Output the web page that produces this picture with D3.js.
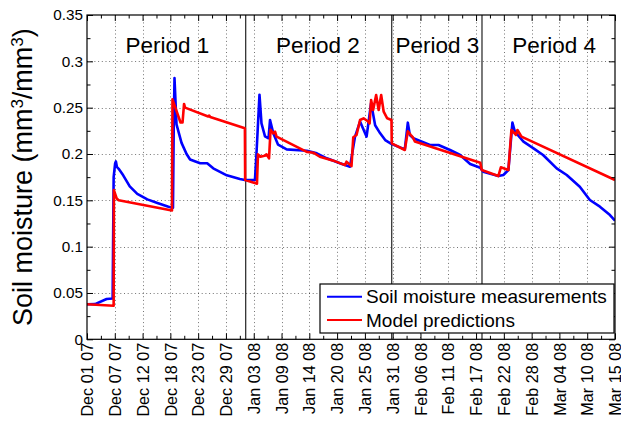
<!DOCTYPE html>
<html>
<head>
<meta charset="utf-8">
<script src="https://cdn.jsdelivr.net/npm/d3@7"></script>
<style>
body{margin:0;background:#fff;}
text{font-family:"Liberation Sans",Arial,Helvetica,sans-serif;fill:#000;}
</style>
</head>
<body>
<script>
// days counted from Dec 01 2007
var xTickLabels=["Dec 01 07","Dec 07 07","Dec 12 07","Dec 18 07","Dec 23 07","Dec 29 07",
  "Jan 03 08","Jan 09 08","Jan 14 08","Jan 20 08","Jan 25 08","Jan 31 08","Feb 06 08",
  "Feb 11 08","Feb 17 08","Feb 22 08","Feb 28 08","Mar 04 08","Mar 10 08","Mar 15 08"]
var yTicks=[0,0.05,0.1,0.15,0.2,0.25,0.3,0.35]

var measDays=[0,1.6,3.9,5.1,5.3,5.6,5.75,5.95,6.3,7.2,8.5,10,12,14,16.2,17.1,
  17.25,17.4,17.8,18.8,19.8,20.5,22.5,23.9,25.1,27.8,30.4,31.4,33.4,33.7,34.3,
  34.7,35.4,36.1,36.4,37.05,38,39.7,43.7,45.7,47.7,50.3,52.3,53.3,54.3,55.6,
  56.5,57.3,58.3,59.3,60.6,63.2,63.8,64.2,64.9,68.2,69.9,72.2,74.2,76.2,78.2,
  78.8,81.8,82.8,83.8,84.6,85.1,86.8,88.8,90.7,93.4,95.4,98,100,102,104,105]
var measVals=[0.0378,0.038,0.0435,0.044,0.175,0.19,0.192,0.186,0.184,0.177,0.165,
  0.157,0.151,0.147,0.143,0.142,0.23,0.282,0.232,0.212,0.2,0.194,0.19,0.19,0.1845,
  0.177,0.173,0.172,0.172,0.2,0.264,0.233,0.219,0.217,0.2367,0.2223,0.21,0.205,
  0.2035,0.2007,0.1953,0.19,0.1863,0.2187,0.235,0.2187,0.255,0.231,0.2223,0.215,
  0.2107,0.205,0.2338,0.2205,0.217,0.2097,0.2097,0.2043,0.1989,0.1892,0.1852,
  0.1809,0.1762,0.1773,0.1827,0.2338,0.224,0.2133,0.2061,0.1989,0.1845,0.1773,
  0.1647,0.1503,0.1431,0.1341,0.128]

var predDays=[0,5.3,5.35,5.9,6.3,16.9,17,18.6,19,19.3,19.5,24.1,24.3,24.5,31.4,
  31.45,33.8,34,34.5,35.3,35.7,36.2,36.5,37.05,37.4,37.7,43.7,45,46.3,49,51.3,
  51.6,52.6,52.95,53.6,54.3,55,55.9,56.2,56.5,56.9,57.5,58,58.5,59,59.7,60.55,
  60.6,63.2,63.8,64.4,64.8,65.2,78.2,78.5,81.8,82.3,83.8,84.4,84.9,85.3,85.6,86.4,105]
var predVals=[0.0378,0.0362,0.161,0.152,0.15,0.139,0.259,0.234,0.234,0.254,0.25,
  0.2405,0.2415,0.24,0.2277,0.172,0.168,0.1996,0.197,0.198,0.1996,0.1953,0.226,
  0.2223,0.224,0.2187,0.2023,0.2014,0.197,0.1928,0.188,0.1917,0.187,0.218,0.2205,
  0.2367,0.2385,0.235,0.233,0.2583,0.2475,0.2637,0.2475,0.2637,0.2456,0.2385,
  0.2367,0.2115,0.2043,0.2245,0.2205,0.218,0.2135,0.1906,0.1827,0.1762,0.1856,
  0.1827,0.2259,0.223,0.2205,0.2259,0.2187,0.1719]

var periodNames=["Period 1","Period 2","Period 3","Period 4"]
var periodCenters=[16.0,45.9,69.7,92.9]
var periodBounds=[31.56,60.6,78.55]
var seriesNames=["Soil moisture measurements","Model predictions"]
var seriesColors=["#0000ff","#ff0000"]

var screen={width:621,height:423}
var margin={top:15,right:6,bottom:83.7,left:87}
var w=screen.width-margin.left-margin.right
var h=screen.height-margin.top-margin.bottom

var nDays=105
var xScale=d3.scaleLinear().domain([0,nDays]).range([0,w])
var yScale=d3.scaleLinear().domain([0,0.35]).range([h,0])

var xTickDays=xTickLabels.map(function(d,i){return i*nDays/(xTickLabels.length-1)})
var xMinor=[]
for (var i=0;i<xTickDays.length-1;i++){xMinor.push((xTickDays[i]+xTickDays[i+1])/2)}
var yMinor=[]
for (var i=0;i<yTicks.length-1;i++){yMinor.push((yTicks[i]+yTicks[i+1])/2)}

var svg=d3.select("body").append("svg")
  .attr('width',screen.width)
  .attr('height',screen.height)

var plot=svg.append("g")
  .attr('transform','translate('+margin.left+','+margin.top+')')

plot.append("clipPath").attr("id","clip")
  .append("rect").attr("width",w).attr("height",h)

// grid
var grid=plot.append("g").attr("stroke","#000").attr("stroke-opacity",0.55)
  .attr("stroke-width",1).attr("stroke-dasharray","1,2.7")
grid.selectAll(".gx").data(xTickDays.slice(1,-1)).enter().append("line")
  .attr("x1",function(d){return Math.round(xScale(d))+0.5})
  .attr("x2",function(d){return Math.round(xScale(d))+0.5})
  .attr("y1",0).attr("y2",h)
grid.selectAll(".gy").data(yTicks.slice(1,-1)).enter().append("line")
  .attr("y1",function(d){return Math.round(yScale(d))+0.5})
  .attr("y2",function(d){return Math.round(yScale(d))+0.5})
  .attr("x1",0).attr("x2",w)

// period separators
plot.selectAll(".sep").data(periodBounds).enter().append("line")
  .attr("x1",function(d){return xScale(d)}).attr("x2",function(d){return xScale(d)})
  .attr("y1",0).attr("y2",h)
  .attr("stroke","#222").attr("stroke-width",1.2)

// lines
var line=d3.line()
  .x(function(d){return xScale(d[0])})
  .y(function(d){return yScale(d[1])})
var meas=d3.zip(measDays,measVals)
var pred=d3.zip(predDays,predVals)
var lines=plot.append("g").attr("clip-path","url(#clip)")
lines.append("path").datum(meas).attr("d",line)
  .attr("fill","none").attr("stroke",seriesColors[0]).attr("stroke-width",2.6)
  .attr("stroke-linejoin","round")
lines.append("path").datum(pred).attr("d",line)
  .attr("fill","none").attr("stroke",seriesColors[1]).attr("stroke-width",2.6)
  .attr("stroke-linejoin","round")

// axes
var xAxis=d3.axisBottom(xScale).tickValues(xTickDays)
  .tickFormat(function(d,i){return xTickLabels[i]})
  .tickSizeInner(-6).tickSizeOuter(0)
var gx=plot.append("g").attr("transform","translate(0,"+h+")").call(xAxis)
gx.selectAll("text")
  .attr("transform","rotate(-90)")
  .attr("x",-3.5).attr("y",0).attr("dy","0.35em")
  .style("text-anchor","end")
gx.append("g").call(d3.axisBottom(xScale).tickValues(xMinor).tickFormat("").tickSizeInner(-3.5).tickSizeOuter(0))
plot.append("g").call(d3.axisTop(xScale).tickValues(xTickDays).tickFormat("").tickSizeInner(-6).tickSizeOuter(0))
plot.append("g").call(d3.axisTop(xScale).tickValues(xMinor).tickFormat("").tickSizeInner(-3.5).tickSizeOuter(0))

var yAxis=d3.axisLeft(yScale).tickValues(yTicks)
  .tickFormat(function(d){return d3.format("")(+d.toFixed(2))})
  .tickSizeInner(-6).tickSizeOuter(0).tickPadding(4)
var gy=plot.append("g").call(yAxis)
plot.append("g").call(d3.axisLeft(yScale).tickValues(yMinor).tickFormat("").tickSizeInner(-3.5).tickSizeOuter(0))
plot.append("g").attr("transform","translate("+w+",0)")
  .call(d3.axisRight(yScale).tickValues(yTicks).tickFormat("").tickSizeInner(-6).tickSizeOuter(0))
plot.append("g").attr("transform","translate("+w+",0)")
  .call(d3.axisRight(yScale).tickValues(yMinor).tickFormat("").tickSizeInner(-3.5).tickSizeOuter(0))

plot.selectAll(".domain").remove()
plot.selectAll(".tick line").attr("stroke","#000")
plot.selectAll(".tick text").attr("fill","#000")
  .style("font-family",'"Liberation Sans",Arial,sans-serif')
gx.selectAll(".tick text").style("font-size","16.2px")
gy.selectAll(".tick text").style("font-size","15.3px")

plot.append("rect").attr("width",w).attr("height",h)
  .attr("fill","none").attr("stroke","#000").attr("stroke-width",1.2)

// period labels
plot.selectAll(".plab").data(periodNames).enter().append("text")
  .attr("x",function(d,i){return xScale(periodCenters[i])})
  .attr("y",yScale(0.3087))
  .attr("text-anchor","middle")
  .style("font-size","22.5px")
  .text(function(d){return d})

// y title
var yt=svg.append("text")
  .attr("transform","translate(32,"+(margin.top+h/2)+") rotate(-90)")
  .attr("text-anchor","middle")
  .style("font-size","27px")
yt.append("tspan").text("Soil moisture (mm")
yt.append("tspan").text("3").attr("baseline-shift","super").style("font-size","17px")
yt.append("tspan").text("/mm")
yt.append("tspan").text("3").attr("baseline-shift","super").style("font-size","17px")
yt.append("tspan").text(")")

// legend
var leg=svg.append("g").attr("transform","translate(320,284)")
leg.append("rect").attr("width",294).attr("height",49)
  .attr("fill","#fff").attr("stroke","#000").attr("stroke-width",1.2)
var item=leg.selectAll(".item").data(seriesNames).enter().append("g")
  .attr("transform",function(d,i){return "translate(0,"+(12.7+i*23.3)+")"})
item.append("line").attr("x1",7).attr("x2",42).attr("y1",0).attr("y2",0)
  .attr("stroke",function(d,i){return seriesColors[i]}).attr("stroke-width",2)
item.append("text").attr("x",46).attr("y",6.5)
  .style("font-size","19px")
  .text(function(d){return d})
</script>
</body>
</html>
